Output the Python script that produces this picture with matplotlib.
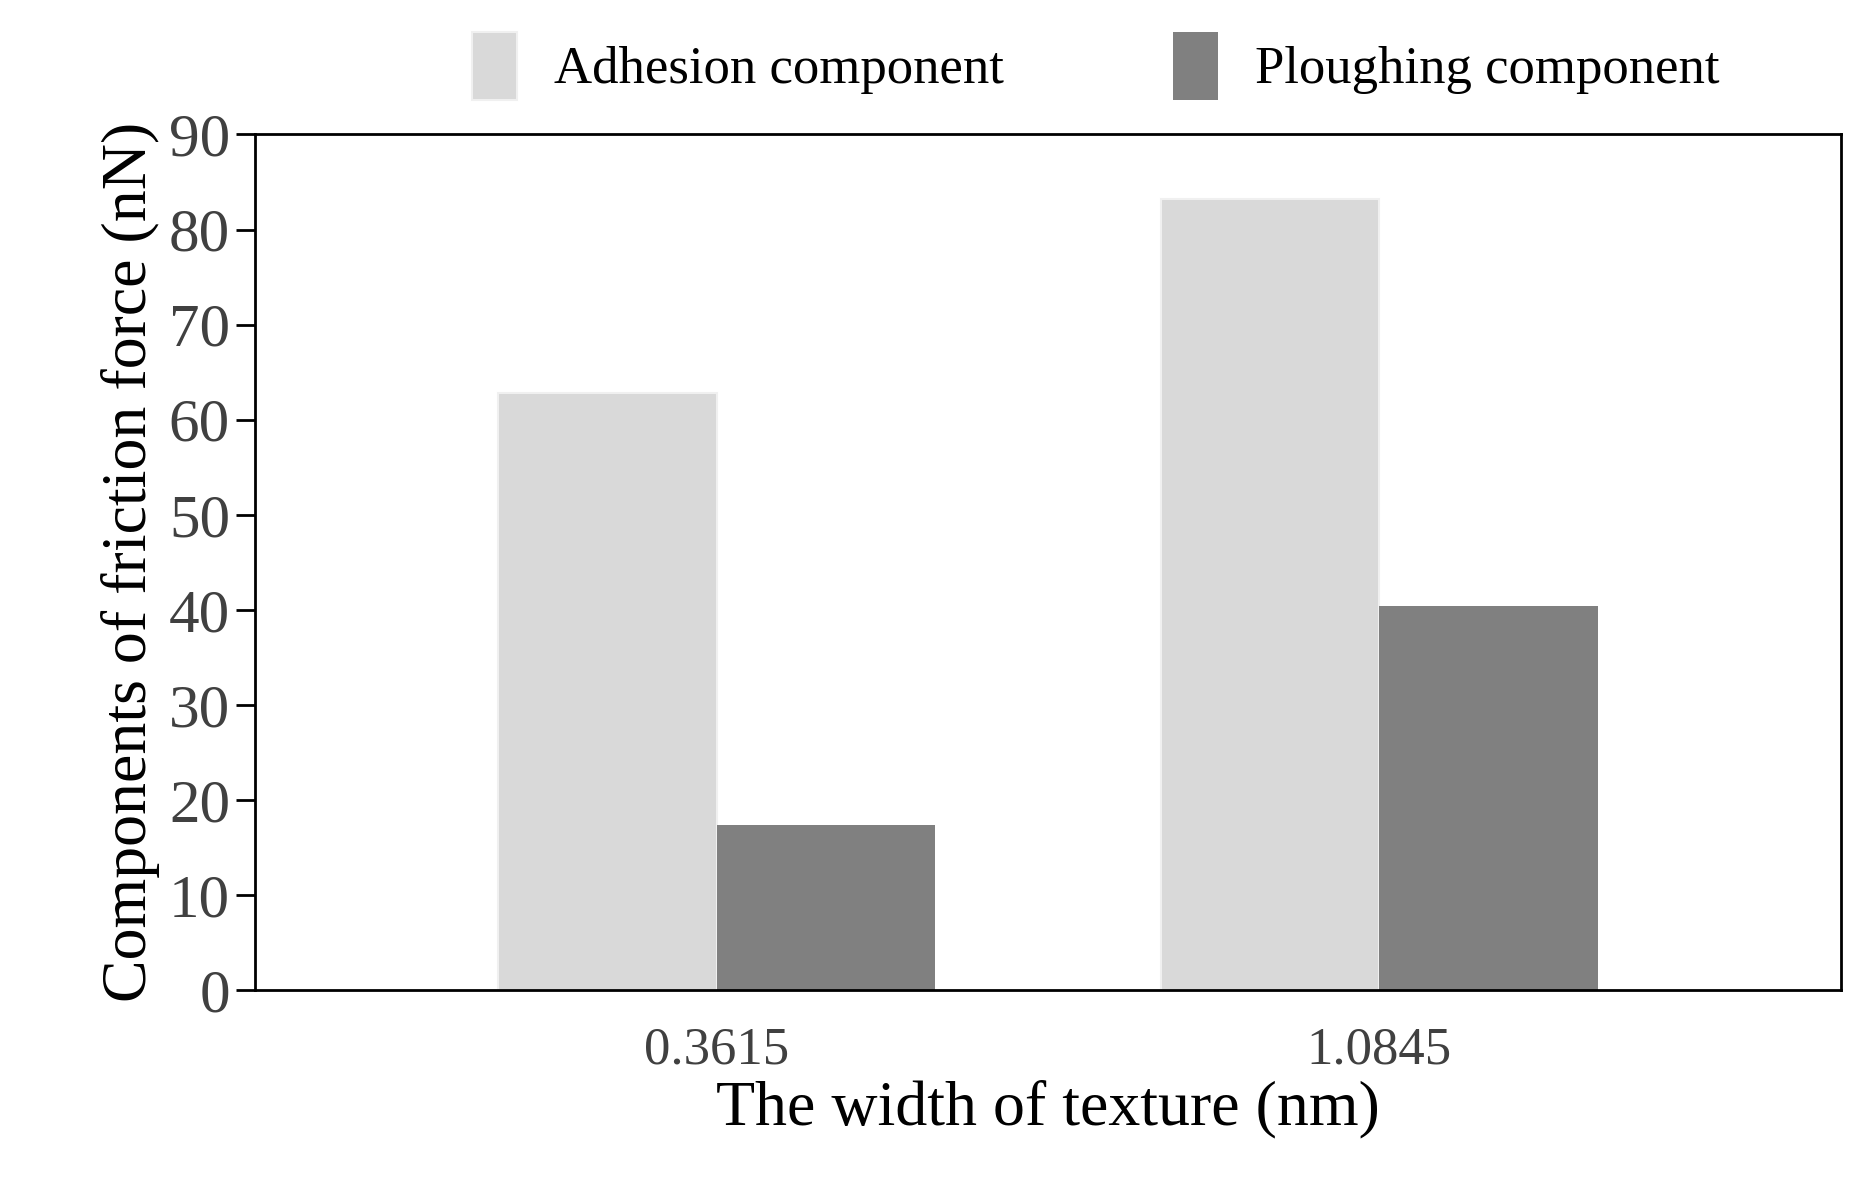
import matplotlib.pyplot as plt
import numpy as np

widths = ["0.3615", "1.0845"]
adhesion = [62.8, 83.2]
ploughing = [17.4, 40.4]

plt.rcParams["font.family"] = ["Liberation Serif", "DejaVu Serif"]
TXT = "#404040"

fig = plt.figure(figsize=(18.75, 11.79), dpi=100)
ax = fig.add_axes([0.136, 0.160, 0.846, 0.726])

x = np.arange(len(widths))
w = 0.33
ax.bar(x - w / 2, adhesion, w, color="#d9d9d9", edgecolor="#f0f0f0", linewidth=1.5,
       label="Adhesion component")
ax.bar(x + w / 2, ploughing, w, color="#808080", label="Ploughing component")

ax.set_xlim(-0.697, 1.697)
ax.set_ylim(0, 90)
ax.set_yticks(range(0, 91, 10))
ax.set_xticks(x)
ax.set_xticklabels(widths)
ax.tick_params(axis="y", direction="out", length=14, width=2, labelsize=44,
               labelcolor=TXT, pad=4)
ax.tick_params(axis="x", length=0, labelsize=38, labelcolor=TXT, pad=26)
for s in ax.spines.values():
    s.set_linewidth(2)
    s.set_color("black")

ax.set_xlabel("The width of texture (nm)", fontsize=46, color="black", labelpad=4)
ax.set_ylabel("Components of friction force (nN)", fontsize=46, color="black", labelpad=6)

ax.legend(loc="lower center", bbox_to_anchor=(0.53, 0.985), ncol=2, frameon=False,
          fontsize=38, handlelength=0.85, handleheight=1.6, columnspacing=3.2,
          handletextpad=0.7, labelcolor="black")

fig.savefig("out.png", dpi=100)
